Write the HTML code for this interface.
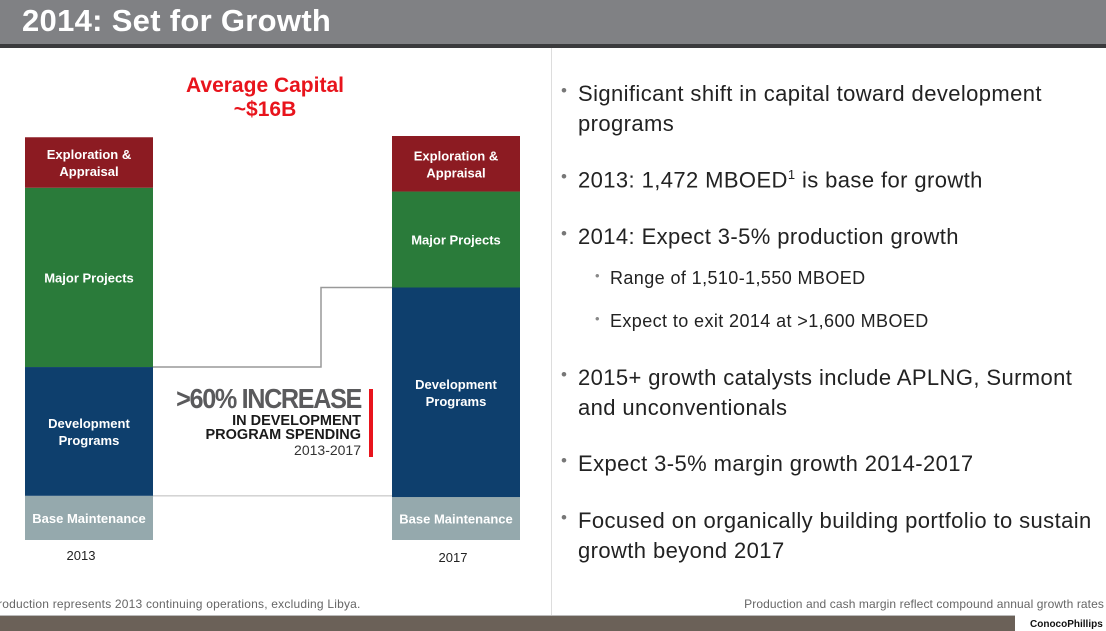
<!DOCTYPE html>
<html><head><meta charset="utf-8">
<style>
body{margin:0;width:1106px;height:630px;overflow:hidden;background:#fff;font-family:"Liberation Sans",sans-serif;position:relative}
.abs{position:absolute}
.b{position:absolute;font-size:22px;letter-spacing:0.4px;color:#222;white-space:nowrap}
.b .d{position:absolute;left:-17px;top:0;color:#777;font-size:17px}
.s{position:absolute;font-size:18px;letter-spacing:0.4px;color:#222;white-space:nowrap}
.s .d{position:absolute;left:-15px;top:0;color:#888;font-size:13px}
</style></head><body>
<div class="abs" style="left:0;top:0;width:1106px;height:44px;background:#808184"></div>
<div class="abs" style="left:0;top:44px;width:1106px;height:4px;background:#3a3a3c"></div>
<div class="abs" style="left:22px;top:3px;font-size:31px;font-weight:bold;color:#fff;letter-spacing:0.3px">2014: Set for Growth</div>
<div class="abs" style="left:551px;top:48px;width:1px;height:567px;background:#ddd"></div>

<svg class="abs" style="left:0;top:0" width="551" height="600" id="chart">
<text x="265" y="92" text-anchor="middle" font-size="21" font-weight="bold" fill="#e8141c">Average Capital</text>
<text x="265" y="116" text-anchor="middle" font-size="21" font-weight="bold" fill="#e8141c">~$16B</text>
</svg>

<div class="abs" style="left:120px;top:384px;width:241px;text-align:right;white-space:nowrap">
<div style="font-size:28px;font-weight:bold;color:#5a5a5c;letter-spacing:-1.5px;line-height:30px;transform:scaleX(0.9);transform-origin:right">&gt;60% INCREASE</div>
<div style="font-size:14.5px;color:#1a1a1a;line-height:14px;font-weight:bold">IN DEVELOPMENT<br>PROGRAM SPENDING</div>
<div style="font-size:14px;color:#333;line-height:16px">2013-2017</div>
</div>
<div class="abs" style="left:369px;top:389px;width:4px;height:68px;background:#e8141c"></div>

<div class="b" style="left:578px;top:81px"><span class="d">•</span>Significant shift in capital toward development</div>
<div class="b" style="left:578px;top:111px">programs</div>
<div class="b" style="left:578px;top:167px"><span class="d">•</span>2013: 1,472 MBOED<sup style="font-size:13px">1</sup> is base for growth</div>
<div class="b" style="left:578px;top:224px"><span class="d">•</span>2014: Expect 3-5% production growth</div>
<div class="s" style="left:610px;top:268px"><span class="d">•</span>Range of 1,510-1,550 MBOED</div>
<div class="s" style="left:610px;top:311px"><span class="d">•</span>Expect to exit 2014 at &gt;1,600 MBOED</div>
<div class="b" style="left:578px;top:365px"><span class="d">•</span>2015+ growth catalysts include APLNG, Surmont</div>
<div class="b" style="left:578px;top:395px">and unconventionals</div>
<div class="b" style="left:578px;top:451px"><span class="d">•</span>Expect 3-5% margin growth 2014-2017</div>
<div class="b" style="left:578px;top:508px"><span class="d">•</span>Focused on organically building portfolio to sustain</div>
<div class="b" style="left:578px;top:538px">growth beyond 2017</div>

<div class="abs" style="left:-2px;top:597px;font-size:12px;color:#666;white-space:nowrap;letter-spacing:0.2px">roduction represents 2013 continuing operations, excluding Libya.</div>
<div class="abs" style="right:2px;top:597px;font-size:12px;color:#666;white-space:nowrap;letter-spacing:0.1px">Production and cash margin reflect compound annual growth rates</div>
<div class="abs" style="left:0;top:615px;width:1015px;height:15px;background:#6b6158;border-top:1px solid #bbb"></div>
<div class="abs" style="left:1030px;top:619px;font-size:10px;font-weight:bold;color:#111">ConocoPhillips</div>

<script>
const years = ['2013','2017'];
const segments = ['Exploration & Appraisal','Major Projects','Development Programs','Base Maintenance'];
const labels = [['Exploration &','Appraisal'],['Major Projects'],['Development','Programs'],['Base Maintenance']];
const colors = ['#8c1b22','#2a7b3a','#0e3f6d','#95a9ad'];
const vals2013 = [2.0, 7.1, 5.1, 1.75];
const vals2017 = [2.2, 3.8, 8.3, 1.7];
const series = [vals2013, vals2017];

const svg = document.getElementById('chart');
const NS = 'http://www.w3.org/2000/svg';
const baseY = 540, pxPerB = 404/16;
const barX = [25, 392], barW = 128;
const y = v => baseY - v*pxPerB;
const tops = [];
series.forEach((vals, i) => {
  let cum = 0;
  const segTops = [];
  for (let k = vals.length-1; k >= 0; k--) {
    const y0 = y(cum), y1 = y(cum + vals[k]);
    cum += vals[k];
    segTops[k] = y1;
    const r = document.createElementNS(NS,'rect');
    r.setAttribute('x', barX[i]); r.setAttribute('y', y1);
    r.setAttribute('width', barW); r.setAttribute('height', y0 - y1);
    r.setAttribute('fill', colors[k]);
    
    
    svg.appendChild(r);
    const mid = (y0 + y1)/2, lines = labels[k];
    lines.forEach((ln, j) => {
      const t = document.createElementNS(NS,'text');
      t.setAttribute('x', barX[i] + barW/2);
      t.setAttribute('y', mid + 5 + (j - (lines.length-1)/2)*17);
      t.setAttribute('text-anchor','middle'); t.setAttribute('font-size','13');
      t.setAttribute('font-weight','bold'); t.setAttribute('fill','#fff');
      
      
      t.textContent = ln; svg.appendChild(t);
    });
  }
  tops.push(segTops);
  const yl = document.createElementNS(NS,'text');
  yl.setAttribute('x', barX[i] + barW/2 - (i?3:8)); yl.setAttribute('y', 560 + i*2);
  yl.setAttribute('text-anchor','middle'); yl.setAttribute('font-size','13'); yl.setAttribute('fill','#222');
  
  
  yl.textContent = years[i]; svg.appendChild(yl);
});
const devTop0 = tops[0][2], devTop1 = tops[1][2], baseTop = y(vals2013[3]);
const p = document.createElementNS(NS,'path');
p.setAttribute('d', `M${barX[0]+barW},${devTop0} H321 V${devTop1} H${barX[1]}`);
p.setAttribute('fill','none'); p.setAttribute('stroke','#999'); p.setAttribute('stroke-width','1.5');


svg.appendChild(p);
const l = document.createElementNS(NS,'line');
l.setAttribute('x1', barX[0]+barW); l.setAttribute('x2', barX[1]);
l.setAttribute('y1', baseTop); l.setAttribute('y2', baseTop);
l.setAttribute('stroke','#bbb'); l.setAttribute('stroke-width','1');


svg.appendChild(l);
</script>
</body></html>
